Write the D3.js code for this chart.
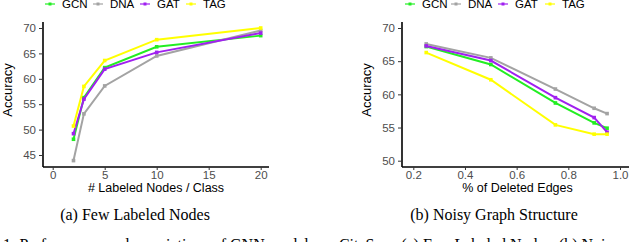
<!DOCTYPE html>
<html>
<head>
<meta charset="utf-8">
<script src="https://cdn.jsdelivr.net/npm/d3@7"></script>
<style>
  body { margin: 0; background: #fff; }
  svg { display: block; }
</style>
</head>
<body>
<div id="chart"></div>
<script>
// ----------------------
// Data
// ----------------------
const seriesNames = ["GCN", "DNA", "GAT", "TAG"];
const seriesColors = ["#22ee22", "#a3a3a3", "#a020f0", "#ffff00"];

// (a) few labeled nodes
const labeledNodes = [2, 3, 5, 10, 20];
const fewGCN = [48.1, 56.3, 62.2, 66.3, 68.5];
const fewDNA = [43.9, 53.1, 58.6, 64.5, 69.5];
const fewGAT = [49.2, 56.0, 61.9, 65.2, 69.0];
const fewTAG = [50.7, 58.5, 63.6, 67.7, 70.0];
const fewXTicks = [0, 5, 10, 15, 20];
const fewYTicks = [45, 50, 55, 60, 65, 70];

// (b) noisy graph structure
const deletedEdges = [0.25, 0.5, 0.75, 0.9, 0.95];
const noisyGCN = [67.2, 64.5, 58.7, 55.7, 54.9];
const noisyDNA = [67.6, 65.5, 60.8, 57.9, 57.1];
const noisyGAT = [67.3, 65.1, 59.5, 56.5, 54.3];
const noisyTAG = [66.3, 62.2, 55.4, 54.0, 54.0];
const noisyXTicks = [0.2, 0.4, 0.6, 0.8, 1.0];
const noisyYTicks = [50, 55, 60, 65, 70];

const W = 640, H = 242;
const svg = d3.select("#chart").append("svg")
    .attr("width", W).attr("height", H);

const tickFont = "'Liberation Sans', Arial, sans-serif";

function drawPanel(cfg) {
    const x = d3.scaleLinear().domain(cfg.xDomain).range(cfg.xRange);
    const y = d3.scaleLinear().domain(cfg.yDomain).range(cfg.yRange);

    const g = svg.append("g");

    // axes
    const xAxis = g.append("g")
        .attr("transform", `translate(0,${cfg.axisBottom})`)
        .call(d3.axisBottom(x).tickValues(cfg.xTicks).tickSize(3).tickPadding(1)
            .tickFormat(cfg.xFormat));
    xAxis.select(".domain").attr("d", `M${cfg.axisLeft},0H${cfg.axisRight}`)
        .attr("stroke", "#000").attr("stroke-width", 1.6);

    const yAxis = g.append("g")
        .attr("transform", `translate(${cfg.axisLeft},0)`)
        .call(d3.axisLeft(y).tickValues(cfg.yTicks).tickSize(4).tickPadding(3));
    yAxis.select(".domain").attr("d", `M0,${cfg.axisTop}V${cfg.axisBottom}`)
        .attr("stroke", "#000").attr("stroke-width", 1.6);

    g.selectAll(".tick line").attr("stroke", "#333").attr("stroke-width", 1);
    g.selectAll(".tick text")
        .attr("fill", "#4d4d4d")
        .style("font-family", tickFont)
        .style("font-size", "11.5px");

    // series
    cfg.series.forEach((vals, i) => {
        const pts = cfg.xs.map((d, j) => [d, vals[j]]);
        g.append("path")
            .datum(pts)
            .attr("fill", "none")
            .attr("stroke", seriesColors[i])
            .attr("stroke-width", 2)
            .attr("d", d3.line().x(d => x(d[0])).y(d => y(d[1])));
        g.selectAll(null)
            .data(pts)
            .enter()
            .append("rect")
            .attr("x", d => x(d[0]) - 1.8)
            .attr("y", d => y(d[1]) - 1.8)
            .attr("width", 3.6).attr("height", 3.6)
            .attr("fill", seriesColors[i]);
    });

    // axis titles
    g.append("text")
        .attr("x", (cfg.axisLeft + cfg.axisRight) / 2 + cfg.xTitleShift)
        .attr("y", 192)
        .attr("text-anchor", "middle")
        .style("font-family", tickFont)
        .style("font-size", "12.5px")
        .text(cfg.xTitle);

    g.append("text")
        .attr("transform", `translate(${cfg.yTitleX},90) rotate(-90)`)
        .attr("text-anchor", "middle")
        .style("font-family", "'Liberation Sans Narrow', 'Liberation Sans', Arial, sans-serif")
        .style("font-size", "13px")
        .text("Accuracy");

    // legend
    const lg = g.append("g");
    cfg.legendX.forEach((lx, i) => {
        lg.append("line")
            .attr("x1", lx).attr("x2", lx + 10)
            .attr("y1", 4).attr("y2", 4)
            .attr("stroke", seriesColors[i]).attr("stroke-width", 1.2);
        lg.append("rect")
            .attr("x", lx + 3.5).attr("y", 2.5)
            .attr("width", 3).attr("height", 3)
            .attr("fill", seriesColors[i]);
        lg.append("text")
            .attr("x", lx + 17).attr("y", 8)
            .style("font-family", tickFont)
            .style("font-size", "11.5px")
            .text(seriesNames[i]);
    });

    // caption
    g.append("text")
        .attr("x", cfg.captionX)
        .attr("y", 220)
        .attr("text-anchor", "middle")
        .style("font-family", "'Liberation Serif', 'Times New Roman', serif")
        .style("font-size", "16px")
        .text(cfg.caption);
}

drawPanel({
    xDomain: [0, 20], xRange: [52.7, 260.7],
    yDomain: [45, 70], yRange: [155, 28],
    axisLeft: 43, axisRight: 269, axisTop: 22, axisBottom: 167,
    xTicks: fewXTicks, yTicks: fewYTicks, xFormat: d3.format("d"),
    xs: labeledNodes,
    series: [fewGCN, fewDNA, fewGAT, fewTAG],
    xTitle: "# Labeled Nodes / Class", xTitleShift: 0,
    yTitleX: 12,
    legendX: [45, 93, 140, 186],
    caption: "(a) Few Labeled Nodes", captionX: 135
});

drawPanel({
    xDomain: [0.2, 1.0], xRange: [413.3, 620],
    yDomain: [50, 70], yRange: [160.7, 28],
    axisLeft: 402, axisRight: 629, axisTop: 22, axisBottom: 167,
    xTicks: noisyXTicks, yTicks: noisyYTicks, xFormat: d3.format(".1f"),
    xs: deletedEdges,
    series: [noisyGCN, noisyDNA, noisyGAT, noisyTAG],
    xTitle: "% of Deleted Edges", xTitleShift: 2,
    yTitleX: 371,
    legendX: [405, 451, 498, 545],
    caption: "(b) Noisy Graph Structure", captionX: 494
});

// figure caption (cut off by the bottom edge)
svg.append("text")
    .attr("x", 3)
    .attr("y", 250)
    .style("font-family", "'Liberation Serif', 'Times New Roman', serif")
    .style("font-size", "16px")
    .text("1: Performance under variations of GNN models on CiteSeer. (a) Few Labeled Nodes. (b) Noisy");
</script>
</body>
</html>
